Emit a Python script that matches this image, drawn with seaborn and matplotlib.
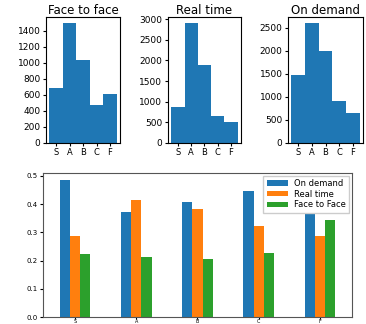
import matplotlib
matplotlib.use('Agg')
import matplotlib.pyplot as plt
from matplotlib.ticker import MultipleLocator
import seaborn as sns
import pandas as pd

grades = ['S', 'A', 'B', 'C', 'F']

# counts per grade for each class type
face_counts = [680, 1500, 1036, 468, 616]
real_counts = [875, 2910, 1885, 660, 512]
demand_counts = [1485, 2610, 2007, 919, 647]

# share of each grade for each class type
modes = ['On demand', 'Real time', 'Face to Face']
on_demand = [0.486, 0.371, 0.408, 0.448, 0.365]
real_time = [0.287, 0.414, 0.381, 0.323, 0.288]
face_to_face = [0.222, 0.212, 0.207, 0.225, 0.344]

fig = plt.figure(figsize=(3.66, 3.24), dpi=100)

top_axes = [
    fig.add_axes([0.126, 0.559, 0.202, 0.389]),
    fig.add_axes([0.459, 0.559, 0.199, 0.389]),
    fig.add_axes([0.787, 0.559, 0.205, 0.389]),
]
titles = ['Face to face', 'Real time', 'On demand']
steps = [200, 500, 500]
for ax, counts, title, step in zip(top_axes, [face_counts, real_counts, demand_counts], titles, steps):
    df = pd.DataFrame({'grade': grades, 'count': counts})
    sns.barplot(data=df, x='grade', y='count', order=grades, width=1.0,
                color='tab:blue', saturation=1, ax=ax)
    ax.set_xlim(-0.75, 4.75)
    ax.yaxis.set_major_locator(MultipleLocator(step))
    ax.set_xlabel('')
    ax.set_ylabel('')
    ax.set_title(title, fontsize=8.5, pad=2)
    ax.tick_params(axis='y', labelsize=6.5, length=2.5, pad=1.5)
    ax.tick_params(axis='x', labelsize=6, length=2.5, pad=1.5)

# bottom grouped bars
long_df = pd.DataFrame({
    'grade': grades * 3,
    'share': on_demand + real_time + face_to_face,
    'mode': [m for m in modes for _ in grades],
})
ax4 = fig.add_axes([0.1175, 0.0215, 0.844, 0.4445])
sns.barplot(data=long_df, x='grade', y='share', hue='mode', order=grades,
            hue_order=modes, palette=['tab:blue', 'tab:orange', 'tab:green'],
            width=0.5, gap=0, saturation=1, ax=ax4)
ax4.set_xlim(-0.525, 4.525)
ax4.set_ylim(0, 0.51)
ax4.set_xlabel('')
ax4.set_ylabel('')
ax4.tick_params(axis='y', labelsize=5, length=2.5, pad=1.5)
ax4.tick_params(axis='x', labelsize=3.5, length=1.2, pad=0.3)
for s in ax4.spines.values():
    s.set_color('#555555')
ax4.legend(loc='upper right', fontsize=6, handlelength=2.5, borderaxespad=0.3,
           labelspacing=0.2, handleheight=0.6, fancybox=False, framealpha=1)

fig.savefig('out.png', dpi=100)
